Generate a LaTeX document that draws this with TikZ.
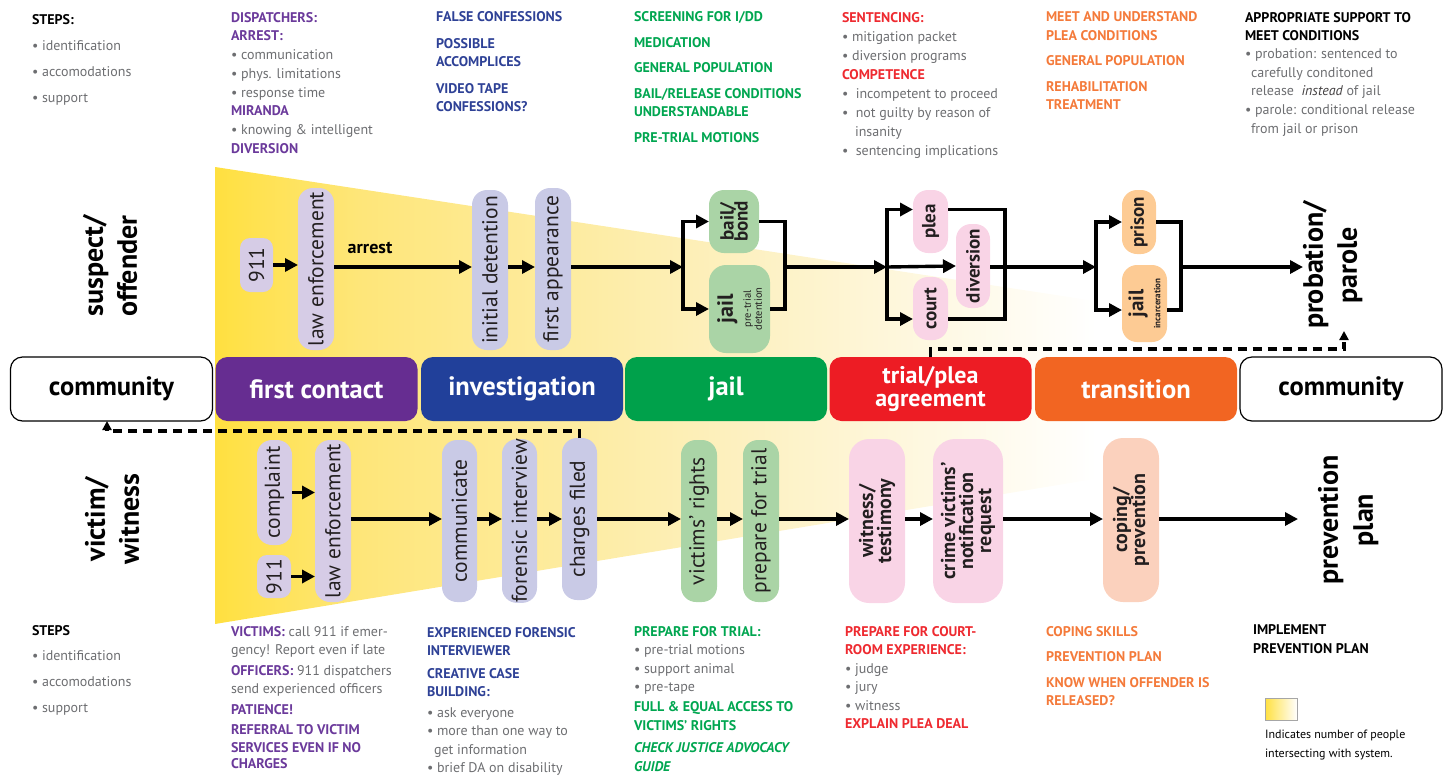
\documentclass[tikz,border=0pt]{standalone}
\usepackage{fontspec}
\setmainfont{PT Sans}
\usetikzlibrary{arrows.meta}
\definecolor{cPurple}{HTML}{662D91}
\definecolor{cBlue}{HTML}{21409A}
\definecolor{cGreen}{HTML}{00A14B}
\definecolor{cRed}{HTML}{ED1C24}
\definecolor{cOrange}{HTML}{F26522}
\definecolor{tPurple}{HTML}{6B3A9B}
\definecolor{tBlue}{HTML}{2E4196}
\definecolor{tGreen}{HTML}{00A650}
\definecolor{tRed}{HTML}{EE2A30}
\definecolor{tOrange}{HTML}{F47A3A}
\definecolor{tGray}{HTML}{6D6E71}
\definecolor{tDark}{HTML}{231F20}
\definecolor{lPurple}{HTML}{D6CCE6}
\definecolor{lBlue}{HTML}{C9CAE6}
\definecolor{lGreen}{HTML}{AAD4A6}
\definecolor{lPink}{HTML}{F9D4E6}
\definecolor{lPeach}{HTML}{FDCB94}
\definecolor{lSalmon}{HTML}{FBD1BD}
\definecolor{fyA}{HTML}{FFE040}
\definecolor{fyB}{HTML}{FEE679}
\definecolor{fyC}{HTML}{FDF0BE}
\pgfdeclarehorizontalshading{funnel}{100bp}{color(0bp)=(fyA); color(25bp)=(fyA); color(32bp)=(fyB); color(50bp)=(fyC); color(68bp)=(white); color(100bp)=(white)}
\newcommand\vt[2][18pt]{\rotatebox{90}{\vbox{\baselineskip=#1\relax\lineskiplimit=-100pt\relax\lineskip=0pt\relax\halign{\hfil##\hfil\cr#2\crcr}}}}
\newcommand\bu{\textbullet\ }
\newcommand\hd[2]{\textcolor{#1}{\bfseries #2}}
\tikzset{
  every node/.style={inner sep=0pt, outer sep=0pt},
  ln/.style={line width=3.4pt},
  arr/.style={line width=3.4pt, -{Triangle[length=13pt,width=13pt]}},
  dsh/.style={line width=3.2pt, dash pattern=on 9pt off 6pt, -{Triangle[length=9pt,width=9pt]}},
  band/.style={rounded corners=12pt, minimum width=202pt, minimum height=64pt, text=white, align=center, font=\bfseries\fontsize{26.5}{23}\selectfont},
  commbox/.style={band, fill=white, draw=black, line width=1.2pt, text=black},
  pillA/.style={rounded corners=15pt, minimum width=36pt, text=tDark, font=\fontsize{21.5}{22}\selectfont},
  pillB/.style={rounded corners=15pt, text=tDark, font=\bfseries\fontsize{19}{19}\selectfont},
  pillC/.style={pillB, minimum height=164pt, rounded corners=20pt, font=\bfseries\fontsize{20}{20}\selectfont},
  side/.style={text=black, font=\bfseries\fontsize{28}{28}\selectfont},
  txt/.style={anchor=north west, align=left, text=tGray, font=\fontsize{14}{18.5}\selectfont},
}
\begin{document}
\begin{tikzpicture}[x=1pt,y=-1pt]
\useasboundingbox (0,0) rectangle (1450,774);
% funnel
\shade[shading=funnel] (215,167) -- (1240,323) -- (1240,455) -- (215,624) -- cycle;
% band
\node[commbox] (commL) at (111.5,389) {community};
\node[band, fill=cPurple] (fc) at (316.5,389) {first contact};
\node[band, fill=cBlue] (inv) at (522,389) {investigation};
\node[band, fill=cGreen] (jailb) at (726,389) {jail};
\node[band, fill=cRed, font=\bfseries\fontsize{24}{23.5}\selectfont] (trial) at (930.5,389) {trial/plea\\agreement};
\node[band, fill=cOrange] (trans) at (1136,389) {transition};
\node[commbox] (commR) at (1341,389) {community};
% side labels
\node[side] (suspect) at (110,266) {\vt[34pt]{suspect/\cr offender}};
\node[side] (victim) at (112,519) {\vt[34pt]{victim/\cr witness}};
\node[side, anchor=west] (probation) at (1303,265) {\vt[34pt]{probation/\cr parole}};
\node[side, anchor=west] (prevention) at (1318,520) {\vt[35pt]{prevention\cr plan}};
% upper nodes
\node[pillA, fill=lPurple, minimum width=33pt, minimum height=54pt, rounded corners=10pt] (u911) at (256.5,265) {\vt{911}};
\node[pillA, fill=lPurple, minimum height=162pt] (ulaw) at (316,269) {\vt{law enforcement}};
\node[pillA, fill=lBlue, minimum height=160pt] (uinit) at (490,270) {\vt{initial detention}};
\node[pillA, fill=lBlue, minimum height=162pt] (ufirst) at (553,269) {\vt{first appearance}};
\node[pillB, fill=lGreen, minimum width=50pt, minimum height=63pt] (bail) at (734,221.5) {\vt[14pt]{bail/\cr bond}};
\node[pillB, fill=lGreen, minimum width=61pt, minimum height=88pt, rounded corners=17pt] (ujail) at (739.5,309) {\vt[11pt]{{\fontsize{22}{22}\selectfont jail}\cr\noalign{\kern7pt}{\mdseries\fontsize{10.5}{10}\selectfont pre-trial}\cr{\mdseries\fontsize{10.5}{10}\selectfont detention}}};
\node[pillB, fill=lPink, minimum width=35pt, minimum height=63pt] (plea) at (930.5,221.5) {\vt{plea}};
\node[pillB, fill=lPink, minimum width=35pt, minimum height=63pt] (court) at (930.5,308.5) {\vt{court}};
\node[pillB, fill=lPink, minimum width=34pt, minimum height=84pt] (diversion) at (973,266) {\vt{diversion}};
\node[pillB, fill=lPeach, minimum width=34pt, minimum height=64pt] (prison) at (1139,222) {\vt{prison}};
\node[pillB, fill=lPeach, minimum width=45pt, minimum height=77pt] (jailinc) at (1144.5,303.5) {\vt[10pt]{{\fontsize{21}{21}\selectfont jail}\cr\noalign{\kern7pt}{\fontsize{9}{9}\selectfont incarceration}}};
% lower nodes
\node[pillA, fill=lPurple, minimum width=35pt, minimum height=105pt] (complaint) at (274.5,492.5) {\vt{complaint}};
\node[pillA, fill=lPurple, minimum width=34pt, minimum height=43pt, rounded corners=10pt] (l911) at (274,576.5) {\vt{911}};
\node[pillA, fill=lPurple, minimum height=162pt] (llaw) at (333,521) {\vt{law enforcement}};
\node[pillA, fill=lBlue, minimum width=35pt, minimum height=162pt] (lcomm) at (459.5,521) {\vt{communicate}};
\node[pillA, fill=lBlue, minimum width=35pt, minimum height=162pt] (forensic) at (519.5,521) {\vt{forensic interview}};
\node[pillA, fill=lBlue, minimum width=35pt, minimum height=162pt] (charges) at (579.5,519) {\vt{charges filed}};
\node[pillA, fill=lGreen, minimum height=162pt] (vrights) at (699,521) {\vt{victims’ rights}};
\node[pillA, fill=lGreen, minimum height=162pt] (prep) at (761,521) {\vt{prepare for trial}};
\node[pillC, fill=lPink, minimum width=56pt] (witness) at (877,521) {\vt[18pt]{witness/\cr testimony}};
\node[pillC, fill=lPink, minimum width=70pt, rounded corners=22pt] (crime) at (968,521) {\vt[18pt]{crime victims’\cr notification\cr request}};
\node[pillC, fill=lSalmon, minimum width=56pt] (coping) at (1131,520) {\vt[18pt]{coping/\cr prevention}};
% coordinates
\coordinate (urow) at (0,267);
\coordinate (lrow) at (0,519);
\coordinate (s1) at (683,267);
\coordinate (m1) at (785,267);
\coordinate (s2) at (887,267);
\coordinate (m2) at (1005,267);
\coordinate (s3) at (1096,267);
\coordinate (m3) at (1181,267);
\coordinate (dR) at (1344,349);
\coordinate (dRend) at (1344,331);
\coordinate (dL) at (107,431);
% upper connectors
\draw[arr] (u911.east) -- (u911.east -| ulaw.west);
\draw[arr] (ulaw.east |- urow) -- (uinit.west |- urow);
\draw[arr] (uinit.east |- urow) -- (ufirst.west |- urow);
\draw[arr] (ufirst.east |- urow) -- (s1);
\draw[arr] (s1) |- (bail.west);
\draw[arr] (s1) |- (ujail.west);
\draw[ln] (bail.east) -| (m1) |- (ujail.east);
\draw[arr] (m1) -- (s2);
\draw[arr] (s2) |- ([yshift=12pt]plea.west);
\draw[arr] (s2) |- ([yshift=-10.5pt]court.west);
\draw[arr] (s2) -- (diversion.west);
\draw[ln] ([yshift=12pt]plea.east) -| (m2) |- ([yshift=-10.5pt]court.east);
\draw[arr] (diversion.east |- s3) -- (s3);
\draw[arr] (s3) |- (prison.west);
\draw[arr] (s3) |- ([yshift=-6.5pt]jailinc.west);
\draw[ln] (prison.east) -| (m3) |- ([yshift=-6.5pt]jailinc.east);
\draw[arr] (m3) -- (probation.west |- m3);
\node[text=black, font=\bfseries\fontsize{18}{18}\selectfont] (arrestlbl) at (370,248) {arrest};
% lower connectors
\draw[arr] (complaint.east) -- (complaint.east -| llaw.west);
\draw[arr] (l911.east) -- (l911.east -| llaw.west);
\foreach \a/\b in {llaw/lcomm, lcomm/forensic, forensic/charges, charges/vrights, vrights/prep, prep/witness, witness/crime, crime/coping}
  \draw[arr] (\a.east |- lrow) -- (\b.west |- lrow);
\draw[arr, shorten >=20pt] (coping.east |- lrow) -- (prevention.west |- lrow);
% dashed
\draw[dsh] (trial.north) |- (dR) -- (dRend);
\draw[dsh] (charges.north) |- (dL) -- (commL.south -| dL);
% top texts
\node[txt] (t1) at (32,15) {\hd{black}{STEPS:}\\[7.4pt] \bu identification\\[7.4pt] \bu accomodations\\[7.4pt] \bu support};
\node[txt, font=\fontsize{14}{18.8}\selectfont] (t2) at (231,12) {\hd{tPurple}{DISPATCHERS:}\\ \hd{tPurple}{ARREST:}\\ \bu communication\\ \bu phys. limitations\\ \bu response time\\ \hd{tPurple}{MIRANDA}\\ \bu knowing \& intelligent\\ \hd{tPurple}{DIVERSION}};
\node[txt, text=tBlue, font=\bfseries\fontsize{14}{18.5}\selectfont] (t3) at (436,12) {FALSE CONFESSIONS\\[8pt] POSSIBLE\\ ACCOMPLICES\\[8pt] VIDEO TAPE\\ CONFESSIONS?};
\node[txt, text=tGreen, font=\bfseries\fontsize{14}{18.5}\selectfont] (t4) at (634,12) {SCREENING FOR I/DD\\[7pt] MEDICATION\\[7pt] GENERAL POPULATION\\[7pt] BAIL/RELEASE CONDITIONS\\ UNDERSTANDABLE\\[7pt] PRE-TRIAL MOTIONS};
\node[txt, font=\fontsize{14}{19}\selectfont] (t5) at (842,12) {\hd{tRed}{SENTENCING:}\\ \bu mitigation packet\\ \bu diversion programs\\ \hd{tRed}{COMPETENCE}\\ \bu\ incompetent to proceed\\ \bu\ not guilty by reason of\\ \hspace{13pt}insanity\\ \bu\ sentencing implications};
\node[txt, text=tOrange, font=\bfseries\fontsize{14}{18.5}\selectfont] (t6) at (1046,12) {MEET AND UNDERSTAND\\ PLEA CONDITIONS\\[7pt] GENERAL POPULATION\\[7pt] REHABILITATION\\ TREATMENT};
\node[txt] (t7) at (1245,12) {\hd{black}{APPROPRIATE SUPPORT TO}\\ \hd{black}{MEET CONDITIONS}\\ \bu probation: sentenced to\\ \hspace{6pt}carefully conditoned\\ \hspace{6pt}release \ \textcolor{tDark!85}{\itshape instead} of jail\\ \bu parole: conditional release\\ \hspace{6pt}from jail or prison};
% bottom texts
\node[txt] (b1) at (32,625) {\hd{black}{STEPS}\\[7.4pt] \bu identification\\[7.4pt] \bu accomodations\\[7.4pt] \bu support};
\node[txt] (b2) at (231,626) {\hd{tPurple}{VICTIMS:} call 911 if emer-\\ gency! Report even if late\\[2pt] \hd{tPurple}{OFFICERS:} 911 dispatchers\\ send experienced officers\\[2pt] \hd{tPurple}{PATIENCE!}\\[2pt] \hd{tPurple}{REFERRAL TO VICTIM}\\[-1pt] \hd{tPurple}{SERVICES EVEN IF NO}\\[-2pt] \hd{tPurple}{CHARGES}};
\node[txt] (b3) at (427,627) {\hd{tBlue}{EXPERIENCED FORENSIC}\\ \hd{tBlue}{INTERVIEWER}\\[4pt] \hd{tBlue}{CREATIVE CASE}\\ \hd{tBlue}{BUILDING:}\\[2pt] \bu ask everyone\\ \bu more than one way to\\ \hspace{7pt}get information\\ \bu brief DA on disability};
\node[txt] (b4) at (634,626) {\hd{tGreen}{PREPARE FOR TRIAL:}\\ \bu pre-trial motions\\ \bu support animal\\ \bu pre-tape\\[1.5pt] \hd{tGreen}{FULL \& EQUAL ACCESS TO}\\ \hd{tGreen}{VICTIMS’ RIGHTS}\\[4pt] \textcolor{tGreen}{\bfseries\itshape CHECK JUSTICE ADVOCACY}\\ \textcolor{tGreen}{\bfseries\itshape GUIDE}};
\node[txt] (b5) at (845,626) {\hd{tRed}{PREPARE FOR COURT-}\\ \hd{tRed}{ROOM EXPERIENCE:}\\ \bu judge\\ \bu jury\\ \bu witness\\ \hd{tRed}{EXPLAIN PLEA DEAL}};
\node[txt, text=tOrange, font=\bfseries\fontsize{14}{18.5}\selectfont] (b6) at (1046,626) {COPING SKILLS\\[7pt] PREVENTION PLAN\\[7pt] KNOW WHEN OFFENDER IS\\ RELEASED?};
\node[txt, text=black, font=\bfseries\fontsize{14}{18.5}\selectfont] (b7) at (1253,625) {IMPLEMENT\\ PREVENTION PLAN};
% legend
\node[draw=gray!70, line width=0.8pt, left color=fyA, right color=white, minimum width=32pt, minimum height=22pt] (legendbox) at (1281,709) {};
\node[txt, text=black, font=\fontsize{12}{19}\selectfont] (legendtxt) at (1265,730) {Indicates number of people\\intersecting with system.};
\end{tikzpicture}
\end{document}
